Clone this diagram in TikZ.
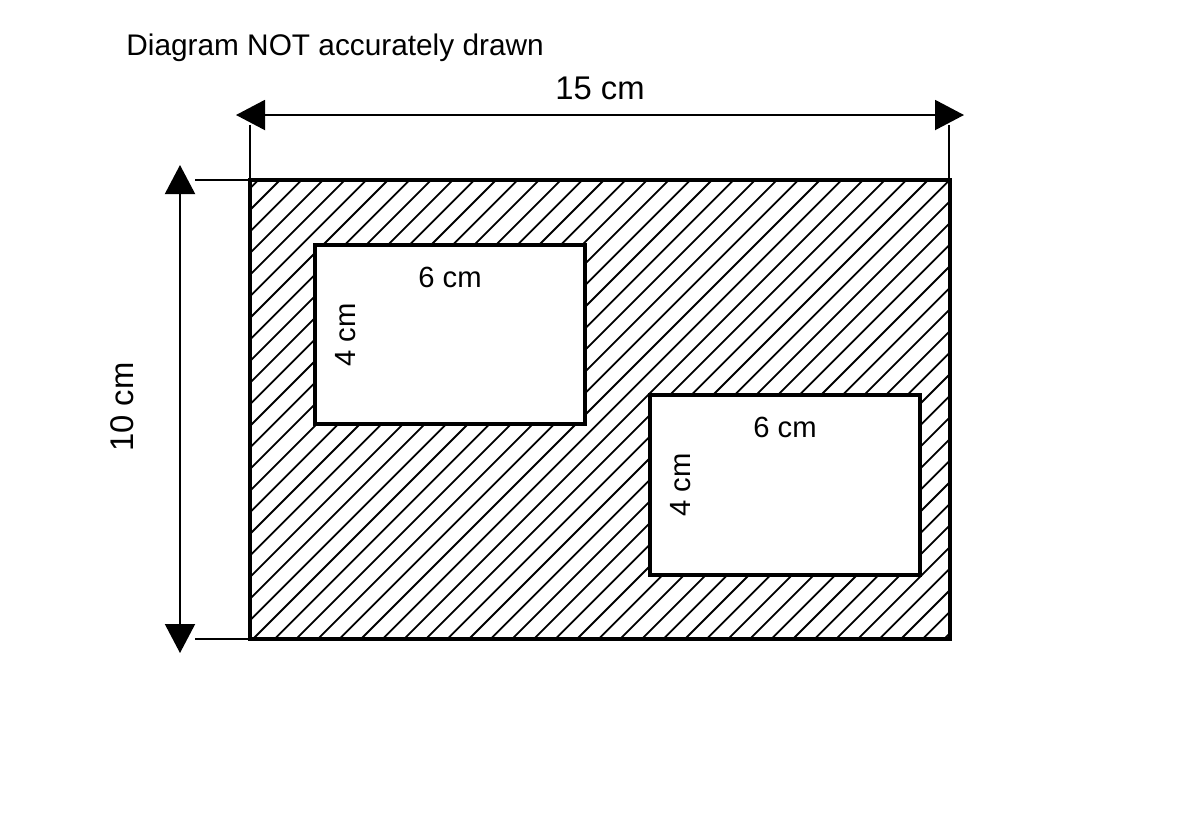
\documentclass[tikz,border=0pt]{standalone}
\usepackage{fontspec}
\setmainfont{Liberation Sans}
\usetikzlibrary{arrows.meta}
\tikzset{
  thinline/.style={line width=1pt, black},
  hatchline/.style={line width=0.9pt, black},
  frame/.style={draw, line width=1.8pt, inner sep=0pt, outer sep=0pt},
  hole/.style={draw, fill=white, line width=2pt, inner sep=0pt, outer sep=0pt},
  dimarrow/.style={line width=1pt, {Triangle[length=14.5pt,width=15pt]}-{Triangle[length=14.5pt,width=15pt]}},
  bigtxt/.style={inner sep=0pt, font=\fontsize{16.4pt}{19pt}\selectfont},
  midtxt/.style={inner sep=0pt, font=\fontsize{14.6pt}{17pt}\selectfont},
}
\begin{document}
\begin{tikzpicture}[x=0.5pt,y=-0.5pt]
\useasboundingbox (0,0) rectangle (1200,820);
% outer shaded rectangle
\node[inner sep=0pt, outer sep=0pt, minimum width=350pt, minimum height=229.5pt] (outer) at (600,409.5) {};
\begin{scope}
  \clip (outer.north west) rectangle (outer.south east);
  \foreach \k in {-3,...,56} {
    \draw[hatchline] ({460+21.6*\k-639},639) -- ({460+21.6*\k-180},180);
  }
\end{scope}
\node[frame, minimum width=350pt, minimum height=229.5pt] (outerframe) at (600,409.5) {};
% holes
\node[hole, minimum width=135pt, minimum height=89.5pt] (hole1) at (450,334.5) {};
\node[hole, minimum width=135pt, minimum height=90pt] (hole2) at (785,485) {};
% labels in holes
\node[midtxt, anchor=base] (w1) at (450,287) {6 cm};
\node[midtxt, anchor=base, rotate=90] (h1) at (355,335) {4 cm};
\node[midtxt, anchor=base] (w2) at (785,437) {6 cm};
\node[midtxt, anchor=base, rotate=90] (h2) at (690,485) {4 cm};
% horizontal dimension
\coordinate (hl) at (236,115);
\coordinate (hr) at (964,115);
\coordinate (el1) at (250,125);
\coordinate (el2) at (250,180);
\coordinate (er1) at (949,125);
\coordinate (er2) at (949,180);
\draw[thinline] (el1) -- (el2);
\draw[thinline] (er1) -- (er2);
\draw[dimarrow] (hl) -- (hr);
\node[bigtxt, anchor=base] (lenlabel) at (600,99) {15 cm};
% vertical dimension
\coordinate (vt) at (180,165);
\coordinate (vb) at (180,653);
\coordinate (et1) at (195,180);
\coordinate (et2) at (250,180);
\coordinate (eb1) at (195,639);
\coordinate (eb2) at (250,639);
\draw[thinline] (et1) -- (et2);
\draw[thinline] (eb1) -- (eb2);
\draw[dimarrow] (vt) -- (vb);
\node[bigtxt, anchor=base, rotate=90] (htlabel) at (133,407) {10 cm};
% note
\node[midtxt, anchor=base west, font=\fontsize{14.9pt}{17pt}\selectfont] (note) at (126,55) {Diagram NOT accurately drawn};
\end{tikzpicture}
\end{document}
